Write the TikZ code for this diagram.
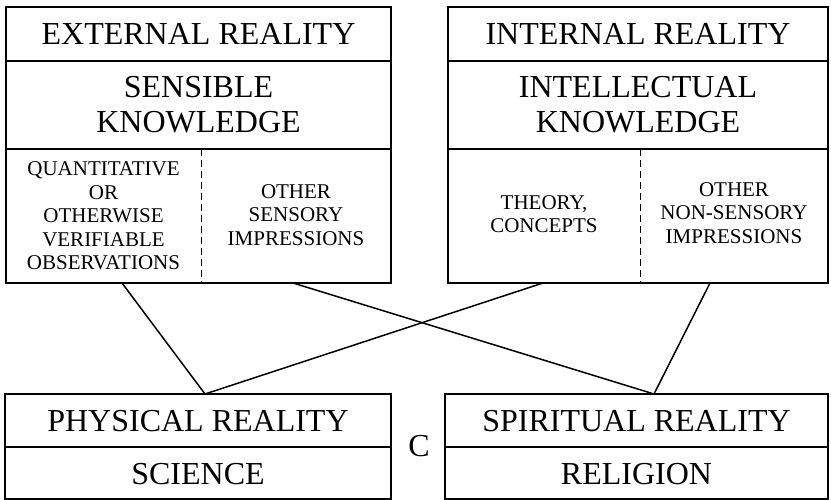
\documentclass[tikz,border=0pt]{standalone}
\usepackage{fontspec}
\setmainfont{Liberation Serif}
\usetikzlibrary{positioning}

\begin{document}
\begin{tikzpicture}[x=1pt, y=-1pt,
   big/.style = {font=\fontsize{32}{35}\selectfont, align=center, inner sep=0pt},
   small/.style = {font=\fontsize{21}{23.4}\selectfont, align=center, inner sep=0pt},
   frame/.style = {line width=1.1pt},
   split/.style = {line width=0.9pt, dash pattern=on 7pt off 4pt},
   link/.style = {line width=1.5pt}]
   \useasboundingbox (0,0) rectangle (831,500);
   % upper boxes
   \foreach \l/\r/\d in {6/391/201, 448/828/640} {
     \draw[frame] (\l,7) rectangle (\r,283);
     \draw[frame] (\l,61) -- (\r,61) (\l,149) -- (\r,149);
     \draw[split] (\d,149) -- (\d,283);
   }
   % lower boxes
   \foreach \l/\r in {5/391, 445/828} {
     \draw[frame] (\l,394) rectangle (\r,499);
     \draw[frame] (\l,447) -- (\r,447);
   }
   \node[big]   (ext)   at (198.5,34)  {EXTERNAL REALITY};
   \node[big]   (sens)  at (198.5,105) {SENSIBLE\\KNOWLEDGE};
   \node[small] (quant) at (103.5,216) {QUANTITATIVE\\OR\\OTHERWISE\\VERIFIABLE\\OBSERVATIONS};
   \node[small] (osens) at (296,215)   {OTHER\\SENSORY\\IMPRESSIONS};
   \node[big]   (int)   at (638,34)    {INTERNAL REALITY};
   \node[big]   (intel) at (638,105)   {INTELLECTUAL\\KNOWLEDGE};
   \node[small] (theo)  at (544,214)   {THEORY,\\CONCEPTS};
   \node[small] (onon)  at (734,213)   {OTHER\\NON-SENSORY\\IMPRESSIONS};
   \node[big]   (phys)  at (198,421)   {PHYSICAL REALITY};
   \node[big]   (sci)   at (198,474)   {SCIENCE};
   \node[big]   (spir)  at (636.5,421) {SPIRITUAL REALITY};
   \node[big]   (rel)   at (636.5,474) {RELIGION};
   \node[big]   (c)     at (419,446)   {C};
   % ends of the links
   \coordinate (quant-out) at (122,283);
   \coordinate (osens-out) at (293,283);
   \coordinate (theo-out)  at (543,283);
   \coordinate (onon-out)  at (710,283);
   \coordinate (phys-in)   at (205,394);
   \coordinate (spir-in)   at (654,394);
   \draw[link] (quant-out) -- (phys-in) -- (theo-out);
   \draw[link] (osens-out) -- (spir-in) -- (onon-out);
\end{tikzpicture}
\end{document}
